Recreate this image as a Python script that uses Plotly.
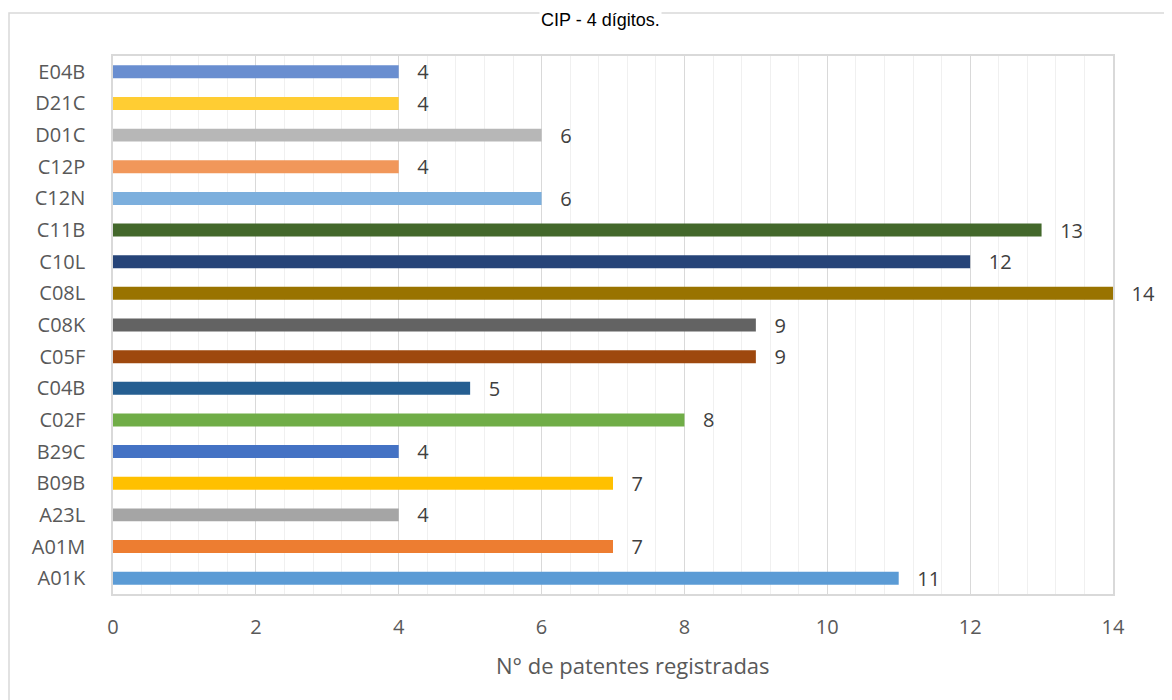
import plotly.graph_objects as go

categories = ["A01K", "A01M", "A23L", "B09B", "B29C", "C02F", "C04B", "C05F", "C08K",
              "C08L", "C10L", "C11B", "C12N", "C12P", "D01C", "D21C", "E04B"]
values = [11, 7, 4, 7, 4, 8, 5, 9, 9, 14, 12, 13, 6, 4, 6, 4, 4]
colors = ["#5B9BD5", "#ED7D31", "#A5A5A5", "#FFC000", "#4472C4", "#70AD47", "#255E91",
          "#9E480E", "#636363", "#997300", "#264478", "#43682B", "#7CAFDD", "#F1975A",
          "#B7B7B7", "#FFCD33", "#698ED0"]
title_text = "CIP - 4 dígitos."
x_title = "N° de patentes registradas"

font_main = "'Open Sans', Lato, sans-serif"

# page offset of 8px (body margin) -> figure spans 8..1172 x 8..700
W, H = 1164, 692
L, T, R, B = 105, 48, 59, 106
ph = H - T - B  # plot height

fig = go.Figure(go.Bar(
    y=categories, x=values, orientation="h",
    marker=dict(color=colors, line=dict(width=0)),
    width=0.41,
    text=values, texttemplate="   %{x}", textposition="outside",
    constraintext="none",
    textfont=dict(family=font_main, size=20, color="#404040"),
    cliponaxis=False,
))

fig.update_layout(
    width=W, height=H,
    margin=dict(l=L, r=R, t=T, b=B),
    paper_bgcolor="white", plot_bgcolor="white",
    showlegend=False,
    xaxis=dict(
        range=[0, 14], dtick=2, tick0=0,
        showgrid=True, gridcolor="#d9d9d9", gridwidth=1.3,
        minor=dict(dtick=0.4, tick0=0, showgrid=True, gridcolor="#f0f0f0", gridwidth=1),
        showline=True, linecolor="#d9d9d9", linewidth=1.5, mirror=True,
        zeroline=False, ticks="",
        tickfont=dict(family=font_main, size=20, color="#595959"),
        ticklabelstandoff=14,
    ),
    yaxis=dict(
        categoryorder="array", categoryarray=categories,
        showgrid=False, zeroline=False,
        showline=True, linecolor="#d9d9d9", linewidth=1.5, mirror=True,
        ticks="",
        tickfont=dict(family=font_main, size=20, color="#595959"),
        ticklabelstandoff=22,
    ),
    shapes=[dict(type="rect", xref="paper", yref="paper",
                 x0=-L / 1000 + 0.001, x1=1.2,
                 y0=-0.3, y1=(ph + (T - 5)) / ph,
                 line=dict(color="#d9d9d9", width=1.5), fillcolor="rgba(0,0,0,0)", layer="below")],
    annotations=[
        dict(text=title_text, xref="paper", yref="paper",
             x=(600 - 113) / 1000, y=(ph + T) / ph, xanchor="center", yanchor="top",
             showarrow=False, bgcolor="white", borderpad=1,
             font=dict(family="Liberation Sans, Arial, sans-serif", size=18, color="#000000")),
        dict(text=x_title, xref="paper", yref="paper",
             x=(633 - 113) / 1000, y=(594 - 665) / 538, xanchor="center", yanchor="middle",
             showarrow=False,
             font=dict(family=font_main, size=22, color="#595959")),
    ],
)

fig.write_html("out.html")
